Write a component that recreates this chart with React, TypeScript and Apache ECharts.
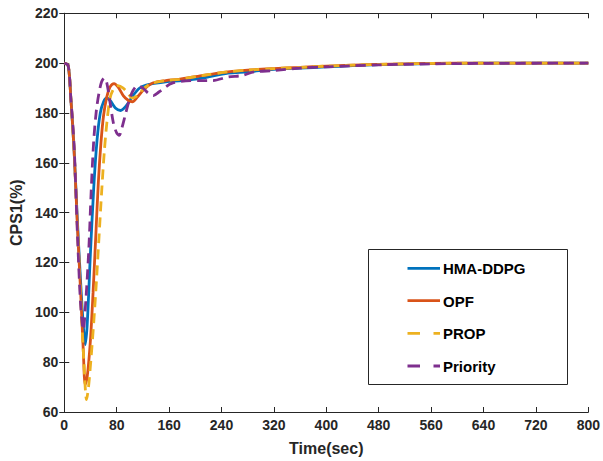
import React, { useEffect, useRef } from "react";
import * as echarts from "echarts";

const xTicks = [0, 80, 160, 240, 320, 400, 480, 560, 640, 720, 800];
const yTicks = [60, 80, 100, 120, 140, 160, 180, 200, 220];

const hmaT = [0, 6, 10, 15, 20, 25, 29, 32, 35, 40, 45, 50, 55, 60, 65, 70, 78, 86, 95, 105, 115, 130, 155, 180, 210, 250, 280, 320, 360, 400, 440, 480, 560, 640, 800];
const hmaV = [200, 199, 186, 165, 137, 112, 95, 87, 95, 124, 150, 169, 180, 184.5, 186, 185, 182, 181, 183, 187, 190, 191.5, 192.5, 193, 194, 196, 196.5, 197.5, 198, 198.5, 199, 199.4, 199.8, 200, 200];

const opfT = [0, 6, 10, 15, 20, 25, 29, 32, 35, 40, 44, 48, 52, 56, 60, 65, 70, 76, 82, 90, 98, 104, 112, 122, 135, 155, 175, 210, 250, 280, 320, 360, 400, 480, 560, 640, 800];
const opfV = [200, 199, 186, 165, 135, 108, 85, 71, 74, 89, 108, 130, 152, 168, 179, 186.5, 190.5, 191.8, 190.5, 187, 185, 184.5, 186.5, 189.5, 192, 193, 193.5, 195, 196.5, 197.2, 197.8, 198.3, 198.8, 199.5, 199.9, 200, 200];

const propT = [0, 6, 10, 15, 20, 25, 30, 34, 37, 41, 45, 49, 53, 57, 61, 65, 70, 76, 82, 90, 97, 104, 112, 122, 135, 155, 175, 210, 250, 280, 320, 360, 400, 480, 560, 640, 800];
const propV = [200, 199, 186, 165, 134, 106, 80, 65, 70, 82, 96, 112, 130, 148, 164, 176, 186, 190, 191, 190, 188, 186, 187, 190, 192, 193, 193.5, 195, 196.5, 197.2, 197.8, 198.3, 198.8, 199.5, 199.9, 200, 200];

const prioT = [0, 6, 10, 15, 20, 25, 29, 33, 37.6, 41, 45, 49, 53, 57, 61, 65, 70, 75, 80, 84, 88, 93, 99, 105, 112, 120, 128, 136, 145, 165, 206, 226, 251, 271, 290, 320, 360, 400, 480, 560, 640, 800];
const prioV = [200, 199, 186, 167, 132, 103, 93, 105, 126, 148, 169, 181, 188, 192.5, 194, 192, 184, 176, 172, 171, 174, 179, 185, 189, 191, 190, 188, 187, 188.5, 192, 193, 193, 194.5, 195, 196.5, 197, 198, 198.5, 199.3, 199.7, 199.9, 200];

const names = ["HMA-DDPG", "OPF", "PROP", "Priority"];
const colors = ["#0072BD", "#D95319", "#EDB120", "#7E2F8E"];
const dashed = [false, false, true, true];

const pair = (t: number[], v: number[]) => t.map((x, i) => [x, v[i]]);

export default function App() {
  const ref = useRef<HTMLDivElement>(null);
  useEffect(() => {
    if (!ref.current) return;
    const chart = echarts.init(ref.current, null, { renderer: "svg" });
    const font = "Liberation Sans, Arial, sans-serif";
    const axisLine = { show: true, lineStyle: { color: "#262626", width: 1 } };
    const tick = { show: true, inside: true, length: 5, lineStyle: { color: "#262626" } };
    const datasets = [pair(hmaT, hmaV), pair(opfT, opfV), pair(propT, propV), pair(prioT, prioV)];

    const legendBox = { x: 368, y: 249, w: 199, h: 135 };
    const legendRows = [268.3, 300.7, 333.3, 366];
    const legendEls: any[] = [
      {
        type: "rect",
        shape: { x: legendBox.x + 0.5, y: legendBox.y + 0.5, width: legendBox.w, height: legendBox.h },
        style: { fill: "#ffffff", stroke: "#262626", lineWidth: 1 },
        z: 100,
      },
    ];
    names.forEach((n, i) => {
      const y = legendRows[i];
      legendEls.push({
        type: "line",
        shape: { x1: 407.5, y1: y, x2: 440, y2: y },
        style: {
          stroke: colors[i],
          lineWidth: 2.8,
          lineDash: dashed[i] ? [12.5, 13.5] : null,
        },
        z: 101,
      });
      legendEls.push({
        type: "text",
        x: 443,
        y: y + 0.5,
        style: {
          text: n,
          fill: "#000000",
          font: `bold 15px ${font}`,
          verticalAlign: "middle",
          align: "left",
        },
        z: 101,
      });
    });

    chart.setOption({
      animation: false,
      backgroundColor: "#ffffff",
      grid: { left: 61.5, right: 10.7, top: 13.3, bottom: 49, containLabel: false },
      xAxis: [
        {
          type: "value",
          min: 0,
          max: 800,
          interval: 80,
          name: "Time(sec)",
          nameLocation: "middle",
          nameGap: 28,
          nameTextStyle: { fontFamily: font, fontWeight: "bold", fontSize: 16, color: "#262626" },
          axisLine,
          axisTick: tick,
          axisLabel: { fontFamily: font, fontWeight: "bold", fontSize: 14, color: "#262626", margin: 6 },
          splitLine: { show: false },
        },
        {
          type: "value",
          position: "top",
          min: 0,
          max: 800,
          interval: 80,
          axisLine,
          axisTick: tick,
          axisLabel: { show: false },
          splitLine: { show: false },
        },
      ],
      yAxis: [
        {
          type: "value",
          min: 60,
          max: 220,
          interval: 20,
          name: "CPS1(%)",
          nameLocation: "middle",
          nameGap: 36,
          nameTextStyle: { fontFamily: font, fontWeight: "bold", fontSize: 16, color: "#262626" },
          axisLine,
          axisTick: tick,
          axisLabel: { fontFamily: font, fontWeight: "bold", fontSize: 14, color: "#262626", margin: 6 },
          splitLine: { show: false },
        },
        {
          type: "value",
          position: "right",
          min: 60,
          max: 220,
          interval: 20,
          axisLine,
          axisTick: tick,
          axisLabel: { show: false },
          splitLine: { show: false },
        },
      ],
      graphic: legendEls,
      series: names.map((n, i) => ({
        name: n,
        type: "line",
        xAxisIndex: 0,
        yAxisIndex: 0,
        data: datasets[i],
        symbol: "none",
        smooth: 0.3,
        color: colors[i],
        lineStyle: { color: colors[i], width: 2.8, type: dashed[i] ? [10, 6] : "solid" },
      })),
    });
    return () => chart.dispose();
  }, []);
  return <div ref={ref} style={{ position: "fixed", left: 0, top: 0, width: 603, height: 461 }} />;
}
